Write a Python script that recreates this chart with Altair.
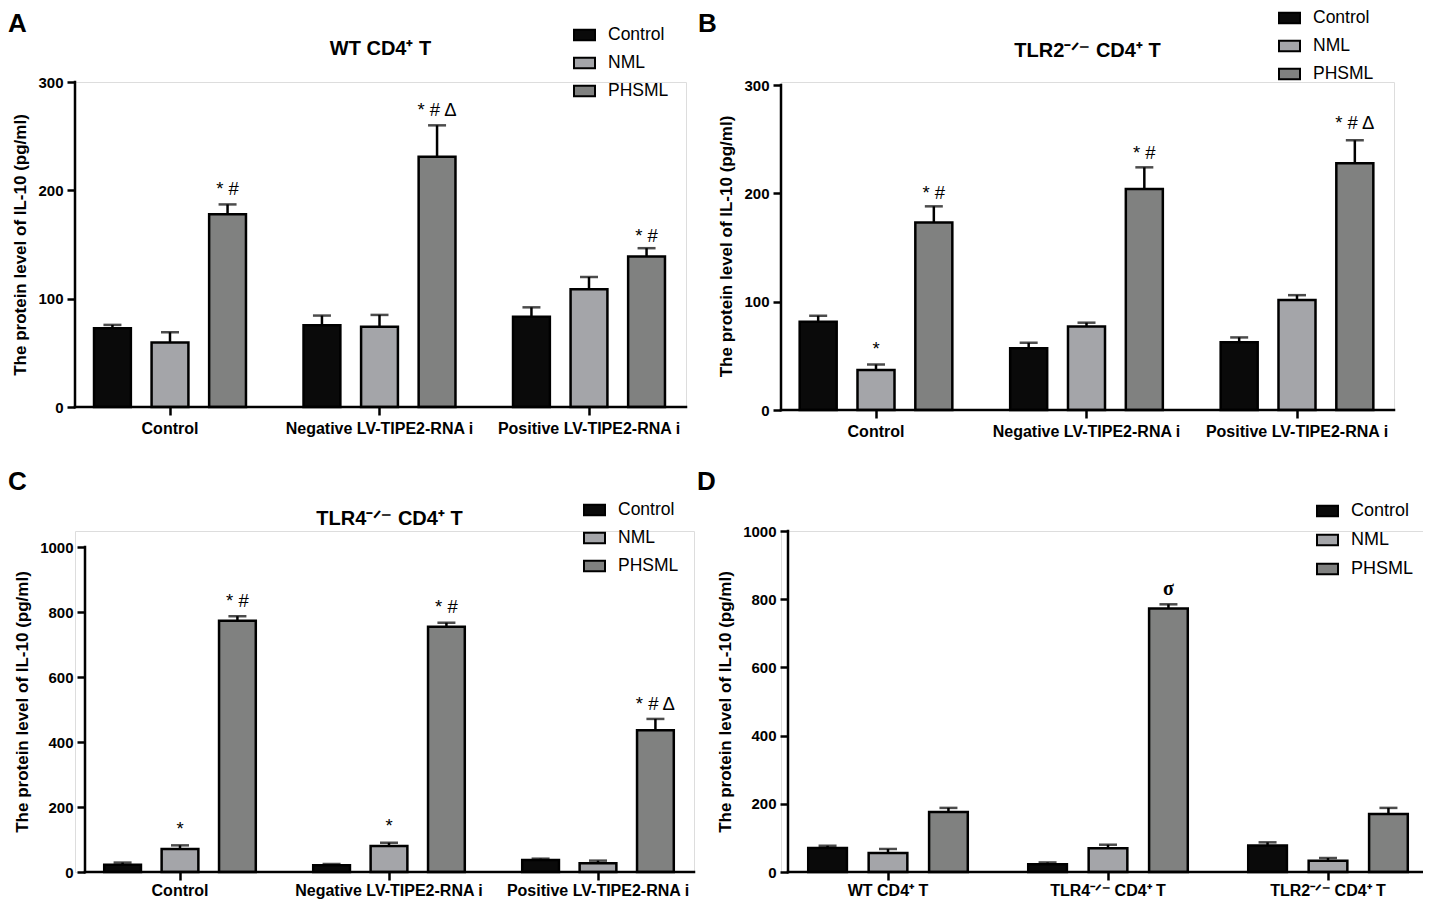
import altair as alt
import pandas as pd

FONT = "Liberation Sans, Arial, Helvetica, sans-serif"

SERIES = ["Control", "NML", "PHSML"]
COLORS = ["#0a0a0a", "#a4a5a9", "#808180"]
GROUPS_ABC = ["Control", "Negative LV-TIPE2-RNA i", "Positive LV-TIPE2-RNA i"]
GROUPS_D = ["WT CD4⁺ T", "TLR4⁻ᐟ⁻ CD4⁺ T", "TLR2⁻ᐟ⁻ CD4⁺ T"]
Y_TITLE = "The protein level of IL-10 (pg/ml)"

# ---- Panel A: WT CD4+ T ----
A_control = [72.7, 75.5, 83.4]
A_nml = [59.5, 74.0, 108.6]
A_phsml = [178.0, 231.0, 139.0]
A_control_err = [3.1, 8.9, 8.6]
A_nml_err = [9.5, 11.0, 11.4]
A_phsml_err = [9.0, 29.0, 7.6]
A_ann_group = ["Control", "Negative LV-TIPE2-RNA i", "Positive LV-TIPE2-RNA i"]
A_ann_series = ["PHSML", "PHSML", "PHSML"]
A_ann_y = [201, 274, 158]
A_ann_text = ["* #", "* # Δ", "* #"]

# ---- Panel B: TLR2-/- CD4+ T ----
B_control = [81.5, 57.0, 62.5]
B_nml = [37.0, 77.0, 101.5]
B_phsml = [173.0, 204.0, 227.7]
B_control_err = [5.5, 5.0, 4.5]
B_nml_err = [5.0, 3.6, 4.5]
B_phsml_err = [15.0, 20.0, 21.3]
B_ann_group = ["Control", "Control", "Negative LV-TIPE2-RNA i", "Positive LV-TIPE2-RNA i"]
B_ann_series = ["NML", "PHSML", "PHSML", "PHSML"]
B_ann_y = [56, 200, 237, 265]
B_ann_text = ["*", "* #", "* #", "* # Δ"]

# ---- Panel C: TLR4-/- CD4+ T ----
C_control = [22.6, 20.5, 37.0]
C_nml = [71.0, 80.0, 27.0]
C_phsml = [773.0, 755.0, 436.0]
C_control_err = [6.4, 4.0, 4.0]
C_nml_err = [11.0, 10.0, 8.0]
C_phsml_err = [14.0, 12.0, 35.0]
C_ann_group = ["Control", "Control", "Negative LV-TIPE2-RNA i", "Negative LV-TIPE2-RNA i", "Positive LV-TIPE2-RNA i"]
C_ann_series = ["NML", "PHSML", "NML", "PHSML", "PHSML"]
C_ann_y = [131, 835, 142, 816, 518]
C_ann_text = ["*", "* #", "*", "* #", "* # Δ"]

# ---- Panel D: comparison across cell types ----
D_control = [70.5, 22.5, 78.0]
D_nml = [56.0, 69.5, 33.0]
D_phsml = [176.0, 773.0, 170.0]
D_control_err = [6.5, 5.5, 9.0]
D_nml_err = [11.5, 10.5, 8.0]
D_phsml_err = [12.0, 12.0, 18.0]
D_ann_group = ["TLR4⁻ᐟ⁻ CD4⁺ T"]
D_ann_series = ["PHSML"]
D_ann_y = [829]
D_ann_text = ["σ"]


def build_df(groups, vals, errs):
    rows = []
    for s, v_list, e_list in zip(SERIES, vals, errs):
        for g, v, e in zip(groups, v_list, e_list):
            rows.append({"group": g, "series": s, "value": v, "top": v + e})
    return pd.DataFrame(rows)


def panel(groups, vals, errs, ann, ymax, ystep, width, height, lead_x, lead_y,
          first_center, step, title, title_dy, letter, letter_xy, legend_xy,
          legend_font, row_pad, ann_style, x_label_pad=5):
    df = build_df(groups, vals, errs)
    ann_df = pd.DataFrame({"group": ann[0], "series": ann[1], "y": ann[2], "label": ann[3]})
    cell_w = width + lead_x
    cell_h = height + lead_y
    r0 = lead_x + first_center - step / 2.0

    x_scale = alt.Scale(range=[r0, r0 + 3 * step], paddingInner=0, paddingOuter=0)
    x_enc = alt.X("group:N", sort=groups, scale=x_scale,
                  axis=alt.Axis(title=None, labelAngle=0, labelFont=FONT,
                                labelFontSize=16, labelFontWeight="bold",
                                labelColor="black", labelLimit=500, tickSize=8,
                                tickWidth=2.5, tickColor="black", domain=False,
                                labelPadding=x_label_pad))
    xo_enc = alt.XOffset("series:N", sort=SERIES,
                         scale=alt.Scale(paddingInner=0.36, paddingOuter=0.5))
    yvals = list(range(0, ymax + 1, ystep))
    y_scale = alt.Scale(domain=[0, ymax * cell_h / height], nice=False, zero=True)
    y_enc = alt.Y("value:Q", scale=y_scale,
                  axis=alt.Axis(title=Y_TITLE, values=yvals, grid=False, format="d",
                                offset=-lead_x, domain=False,
                                labelFont=FONT, labelFontSize=15, labelFontWeight="bold",
                                labelColor="black", tickSize=8, tickWidth=2.5,
                                tickColor="black", labelPadding=4,
                                titleFont=FONT, titleFontSize=17, titleFontWeight="bold",
                                titleColor="black", titlePadding=8))

    color_enc = alt.Color("series:N", sort=SERIES,
                          scale=alt.Scale(domain=SERIES, range=COLORS),
                          legend=alt.Legend(orient="none", legendX=legend_xy[0],
                                            legendY=legend_xy[1], title=None,
                                            symbolType="M-1,-0.5L1,-0.5L1,0.5L-1,0.5Z",
                                            symbolSize=441, symbolStrokeColor="black",
                                            symbolStrokeWidth=2, symbolOpacity=1,
                                            labelFont=FONT, labelFontSize=legend_font,
                                            labelColor="black", rowPadding=row_pad,
                                            labelOffset=12))

    rules = alt.Chart(df).mark_rule(color="black", strokeWidth=2.5).encode(
        x=x_enc, xOffset=xo_enc, y=y_enc, y2="top:Q")
    bars = alt.Chart(df).mark_bar(stroke="black", strokeWidth=2.5).encode(
        x=x_enc, xOffset=xo_enc, y=y_enc, color=color_enc)
    caps = alt.Chart(df).mark_tick(color="black", thickness=2.5, size=18).encode(
        x=x_enc, xOffset=xo_enc, y=alt.Y("top:Q", scale=y_scale))
    notes = alt.Chart(ann_df).mark_text(color="black", baseline="middle", **ann_style).encode(
        x=alt.X("group:N", sort=groups), xOffset=alt.XOffset("series:N", sort=SERIES),
        y=alt.Y("y:Q", scale=y_scale), text="label:N")

    axis_df = pd.DataFrame({"y0": [0], "y1": [ymax]})
    y_line = alt.Chart(axis_df).mark_rule(color="black", strokeWidth=2.5,
                                          strokeCap="square").encode(
        x=alt.value(lead_x), y=alt.Y("y0:Q", scale=y_scale), y2="y1:Q")
    x_line = alt.Chart(axis_df).mark_rule(color="black", strokeWidth=2.5,
                                          strokeCap="square").encode(
        x=alt.value(lead_x), x2=alt.value(cell_w), y=alt.Y("y0:Q", scale=y_scale))

    layers = [rules, bars, caps, notes, y_line, x_line]
    letter_layer = alt.Chart(pd.DataFrame({"t": [letter]})).mark_text(
        font=FONT, fontSize=26, fontWeight="bold", color="black",
        align="left", baseline="alphabetic").encode(
        text="t:N", x=alt.value(letter_xy[0]), y=alt.value(letter_xy[1]))
    layers.append(letter_layer)
    if title:
        title_layer = alt.Chart(pd.DataFrame({"t": [title]})).mark_text(
            font=FONT, fontSize=20, fontWeight="bold", color="black",
            align="center", baseline="alphabetic").encode(
            text="t:N", x=alt.value(lead_x + width / 2), y=alt.value(title_dy))
        layers.append(title_layer)

    return alt.layer(*layers).properties(width=cell_w, height=cell_h)


sans_ann = {"font": FONT, "fontSize": 18.5}
sigma_ann = {"font": "Liberation Serif, Times New Roman, serif", "fontSize": 20, "fontWeight": "bold"}

pA = panel(GROUPS_ABC, [A_control, A_nml, A_phsml], [A_control_err, A_nml_err, A_phsml_err],
           [A_ann_group, A_ann_series, A_ann_y, A_ann_text], 300, 100, 611, 325, 0, 0,
           95, 209.5, "WT CD4⁺ T", -27, "A", (-67, -50), (498, -58.5), 17.5, 7, sans_ann)
pB = panel(GROUPS_ABC, [B_control, B_nml, B_phsml], [B_control_err, B_nml_err, B_phsml_err],
           [B_ann_group, B_ann_series, B_ann_y, B_ann_text], 300, 100, 613, 325, 0, 3,
           95, 210.5, "TLR2⁻ᐟ⁻ CD4⁺ T", -25, "B", (-83, -50), (497, -75.5), 17.5, 7, sans_ann)
pC = panel(GROUPS_ABC, [C_control, C_nml, C_phsml], [C_control_err, C_nml_err, C_phsml_err],
           [C_ann_group, C_ann_series, C_ann_y, C_ann_text], 1000, 200, 609, 325, 10, 16,
           95, 209, "TLR4⁻ᐟ⁻ CD4⁺ T", -6, "C", (-67, -41), (508, -32.5), 17.5, 7, sans_ann, 2)
pD = panel(GROUPS_D, [D_control, D_nml, D_phsml], [D_control_err, D_nml_err, D_phsml_err],
           [D_ann_group, D_ann_series, D_ann_y, D_ann_text], 1000, 200, 638, 341, 7, 0,
           100, 220, None, 0, "D", (-84, -41), (535, -31.5), 18, 8, sigma_ann, 2)

chart = alt.concat(pA, pB, pC, pD, columns=2, spacing={"row": 121, "column": 87},
                   bounds="flush").resolve_scale(
    color="independent", x="independent", y="independent", xOffset="independent").resolve_legend(
    color="independent").properties(
    autosize=alt.AutoSizeParams(type="none"),
    padding={"top": 74, "left": 67, "right": 1348, "bottom": 817}
).configure_view(strokeWidth=0).configure(background="white")

chart.save("out.html", embed_options={"renderer": "svg", "actions": False})
